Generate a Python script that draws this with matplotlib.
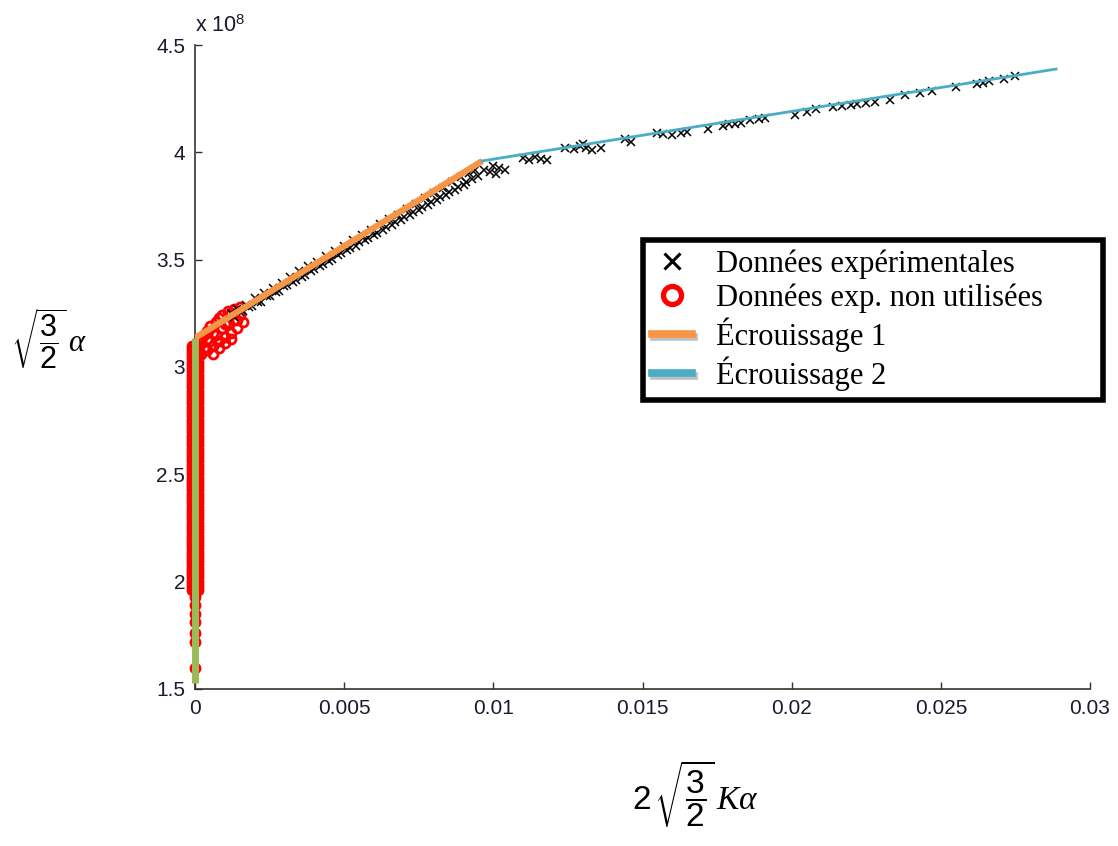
import numpy as np
import matplotlib
matplotlib.use("Agg")
import matplotlib.pyplot as plt
from matplotlib.lines import Line2D
import matplotlib.patheffects as pe

# values in units of 1e8 on the y axis
SCALE_LABEL = r"x 10$^{8}$"

# experimental points used for the fit (black x)
exp_x = [0.0012, 0.0014, 0.0017, 0.0020, 0.0023, 0.0026, 0.0029, 0.0032, 0.0035, 0.0038,
         0.0041, 0.0044, 0.0047, 0.0050, 0.0053, 0.0056, 0.0059, 0.0062, 0.0065, 0.0068,
         0.0071, 0.0074, 0.0077, 0.0080, 0.0083, 0.0086, 0.0089, 0.0092, 0.0094,
         0.0013, 0.0016, 0.0019, 0.0022, 0.0025, 0.0028, 0.0031, 0.0034, 0.0037, 0.0040,
         0.0043, 0.0046, 0.0049, 0.0052, 0.0055, 0.0058, 0.0061, 0.0064, 0.0067, 0.0070,
         0.0073, 0.0076, 0.0079, 0.0082, 0.0085, 0.0088, 0.0091, 0.0093,
         0.0015, 0.0018, 0.0021, 0.0024, 0.0027, 0.0030, 0.0033, 0.0036, 0.0039, 0.0042,
         0.0045, 0.0048, 0.0051, 0.0054, 0.0057, 0.0060, 0.0063, 0.0066, 0.0069, 0.0072,
         0.0075, 0.0078, 0.0081, 0.0084, 0.0087, 0.0090, 0.0095,
         0.0097, 0.0099, 0.0100, 0.0102, 0.0104, 0.0101,
         0.0110, 0.0112, 0.0114, 0.0116, 0.0118,
         0.0124, 0.0127, 0.0129, 0.0130, 0.0131, 0.0133, 0.0136,
         0.0144, 0.0146,
         0.0155, 0.0157, 0.0160, 0.0163, 0.0165,
         0.0172, 0.0177, 0.0179, 0.0181, 0.0183, 0.0186, 0.0189, 0.0191,
         0.0201, 0.0205, 0.0208,
         0.0214, 0.0217, 0.0220, 0.0222, 0.0225, 0.0228,
         0.0233, 0.0238, 0.0243, 0.0247, 0.0255, 0.0262, 0.0264, 0.0266, 0.0271, 0.0275]
exp_y = [3.25, 3.27, 3.29, 3.32, 3.345, 3.37, 3.39, 3.42, 3.445, 3.47,
         3.49, 3.515, 3.54, 3.565, 3.59, 3.615, 3.64, 3.665, 3.69, 3.71,
         3.735, 3.76, 3.785, 3.81, 3.835, 3.86, 3.885, 3.905, 3.92,
         3.235, 3.26, 3.285, 3.305, 3.33, 3.355, 3.38, 3.405, 3.43, 3.455,
         3.48, 3.505, 3.53, 3.555, 3.58, 3.60, 3.625, 3.65, 3.675, 3.70,
         3.72, 3.745, 3.77, 3.79, 3.815, 3.84, 3.86, 3.875,
         3.255, 3.28, 3.305, 3.33, 3.35, 3.375, 3.395, 3.42, 3.445, 3.47,
         3.495, 3.52, 3.545, 3.565, 3.59, 3.615, 3.64, 3.66, 3.685, 3.71,
         3.73, 3.755, 3.78, 3.80, 3.825, 3.85, 3.89,
         3.92, 3.91, 3.935, 3.925, 3.92, 3.90,
         3.975, 3.965, 3.98, 3.97, 3.965,
         4.02, 4.015, 4.03, 4.04, 4.02, 4.01, 4.02,
         4.06, 4.05,
         4.09, 4.085, 4.08, 4.09, 4.095,
         4.11, 4.125, 4.13, 4.13, 4.135, 4.15, 4.155, 4.16,
         4.175, 4.19, 4.20,
         4.21, 4.215, 4.22, 4.225, 4.23, 4.235,
         4.245, 4.265, 4.275, 4.285, 4.305, 4.32, 4.325, 4.33, 4.34, 4.355]

# unused experimental points (red circles): vertical column at x ~ 0
red_col_x = [-0.0001, 0.0, 0.0001]
red_col_y = [1.96, 1.975, 1.99, 2.005, 2.02, 2.035, 2.05, 2.065, 2.08, 2.095, 2.11,
             2.125, 2.14, 2.155, 2.17, 2.185, 2.20, 2.215, 2.23, 2.245, 2.26, 2.275,
             2.29, 2.305, 2.32, 2.335, 2.35, 2.365, 2.38, 2.395, 2.41, 2.425, 2.44,
             2.455, 2.47, 2.485, 2.50, 2.515, 2.53, 2.545, 2.56, 2.575, 2.59, 2.605,
             2.62, 2.635, 2.65, 2.665, 2.68, 2.695, 2.71, 2.725, 2.74, 2.755, 2.77,
             2.785, 2.80, 2.815, 2.83, 2.845, 2.86, 2.875, 2.89, 2.905, 2.92, 2.935,
             2.95, 2.965, 2.98, 2.995, 3.01, 3.025, 3.04, 3.055, 3.07, 3.085, 3.10]
# sparse low points
red_low_x = [0.0, 0.0, 0.0, 0.0, 0.0, 0.0, 0.0]
red_low_y = [1.60, 1.72, 1.76, 1.81, 1.85, 1.89, 1.93]
# and the start of the knee
red_knee_x = [0.0002, 0.0002, 0.0003, 0.0004, 0.0005, 0.0005, 0.0006, 0.0007, 0.0007, 0.0008,
              0.0009, 0.0009, 0.0010, 0.0011, 0.0011, 0.0012, 0.0013, 0.0013, 0.0014, 0.0015,
              0.0015, 0.0016, 0.0003, 0.0004, 0.0006, 0.0008, 0.0010, 0.0012, 0.0014,
              0.0002, 0.0004, 0.0006, 0.0008, 0.0010, 0.0012]
red_knee_y = [3.06, 3.11, 3.15, 3.08, 3.12, 3.19, 3.10, 3.15, 3.21, 3.12,
              3.18, 3.24, 3.14, 3.20, 3.26, 3.16, 3.22, 3.27, 3.18, 3.24,
              3.28, 3.21, 3.09, 3.17, 3.16, 3.23, 3.20, 3.25, 3.22,
              3.14, 3.13, 3.06, 3.09, 3.11, 3.13]

# fitted segments
elastic_x = [0.0, 0.0]
elastic_y = [1.53, 3.135]
ecr1_x = [0.0, 0.00963]
ecr1_y = [3.135, 3.96]
ecr2_x = [0.00963, 0.02886]
ecr2_y = [3.96, 4.388]

xticks = [0, 0.005, 0.01, 0.015, 0.02, 0.025, 0.03]
xticklabels = ["0", "0.005", "0.01", "0.015", "0.02", "0.025", "0.03"]
yticks = [1.5, 2, 2.5, 3, 3.5, 4, 4.5]
yticklabels = ["1.5", "2", "2.5", "3", "3.5", "4", "4.5"]

plt.rcParams['font.family'] = ['Liberation Sans', 'DejaVu Sans']
plt.rcParams['mathtext.fontset'] = 'custom'
plt.rcParams['mathtext.rm'] = 'Liberation Sans'
plt.rcParams['mathtext.it'] = 'Liberation Serif:italic'

fig = plt.figure(figsize=(11.18, 8.46), dpi=100)
ax = fig.add_axes([0.1744, 0.1856, 0.8006, 0.7612])

ax.set_xlim(0, 0.03)
ax.set_ylim(1.5, 4.5)

red_style = dict(ls='none', marker='o', mfc='none', mec='#ff0000', mew=2, ms=6.5,
                 clip_on=False, zorder=2)
for cx in red_col_x:
    ax.plot([cx] * len(red_col_y), red_col_y, **red_style)
ax.plot(red_low_x, red_low_y, **red_style)
ax.plot(red_knee_x, red_knee_y, **red_style)

ax.plot(exp_x, exp_y, 'x', color='black', ms=5.5, mew=1.1, zorder=3)

ax.plot(elastic_x, elastic_y, color='#9bbb59', lw=5, solid_capstyle='butt', zorder=4, clip_on=False)
ax.plot(ecr1_x, ecr1_y, color='#f79646', lw=4.5, solid_capstyle='butt', zorder=4)
ax.plot(ecr2_x, ecr2_y, color='#4bacc6', lw=2, zorder=4)

for s in ['top', 'right']:
    ax.spines[s].set_visible(False)
for s in ['left', 'bottom']:
    ax.spines[s].set_color('#333333')
    ax.spines[s].set_linewidth(1.2)

ax.set_xticks(xticks)
ax.set_xticklabels(xticklabels)
ax.set_yticks(yticks)
ax.set_yticklabels(yticklabels)
ax.tick_params(direction='in', length=5, width=1, colors='#333333',
               labelcolor='#1a1a2e', labelsize=15, pad=7)

ax.text(0.0, 1.012, SCALE_LABEL, transform=ax.transAxes, fontsize=15.5,
        color='#1a1a2e', ha='left', va='bottom')

fig.text(0.044, 0.6, r"$\sqrt{\dfrac{3}{2}}\,\alpha$", fontsize=22, ha='center', va='center')
fig.text(0.622, 0.062, r"$2\,\sqrt{\dfrac{3}{2}}\,K\alpha$", fontsize=24, ha='center', va='center')

shadow = [pe.SimpleLineShadow(offset=(1.5, -2), shadow_color='gray', alpha=0.5), pe.Normal()]
handles = [
    Line2D([], [], ls='none', marker='x', color='black', ms=11, mew=2.2),
    Line2D([], [], ls='none', marker='o', mfc='none', mec='#ff0000', ms=13, mew=3.8),
    Line2D([], [], color='#f79646', lw=5.5, path_effects=shadow),
    Line2D([], [], color='#4bacc6', lw=5.5, path_effects=shadow),
]
labels = ["Données expérimentales", "Données exp. non utilisées", "Écrouissage 1", "Écrouissage 2"]
leg = fig.legend(handles, labels, loc='upper left', bbox_to_anchor=(0.575, 0.527, 0.412, 0.189),
                 mode='expand', bbox_transform=fig.transFigure,
                 prop={'family': 'Liberation Serif', 'size': 22},
                 frameon=True, fancybox=False, framealpha=1, handlelength=1.3, handletextpad=0.8,
                 labelspacing=0.15, borderpad=0.3, borderaxespad=0)
leg.get_frame().set_edgecolor('black')
leg.get_frame().set_linewidth(4)

fig.savefig("out.png", dpi=100)
